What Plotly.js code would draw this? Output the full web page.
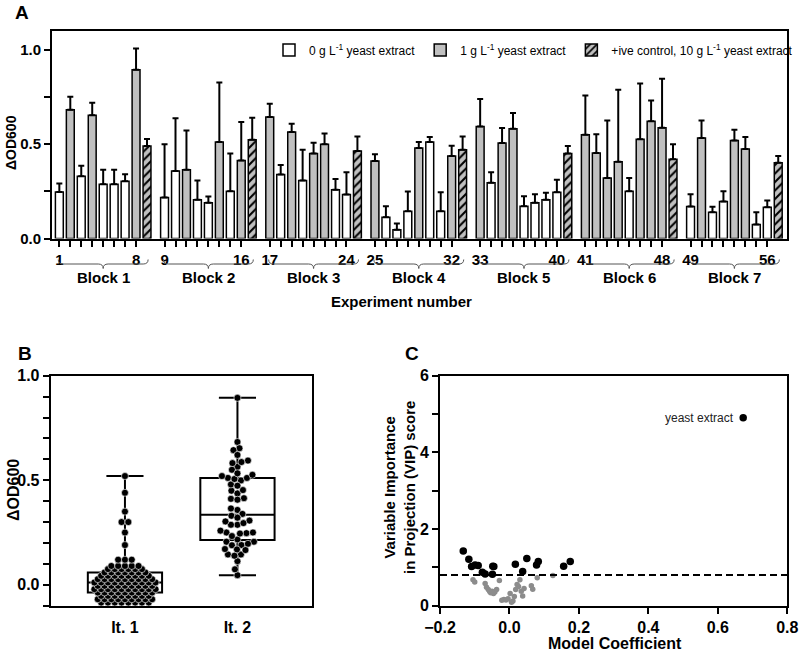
<!DOCTYPE html>
<html><head><meta charset="utf-8">
<script src="https://cdn.plot.ly/plotly-3.0.1.min.js"></script>
<style>body{margin:0;background:#fff}#chart{width:800px;height:653px}</style>
</head><body><div id="chart"></div>
<script>
const FONT = 'Liberation Sans, Arial, Helvetica, sans-serif';

// ---------- Panel A data ----------
const blockNames = ['Block 1','Block 2','Block 3','Block 4','Block 5','Block 6','Block 7'];
const expValues = [
  0.247,0.683,0.330,0.653,0.287,0.287,0.303,0.894,
  0.217,0.358,0.365,0.206,0.189,0.511,0.250,0.414,
  0.644,0.339,0.564,0.307,0.450,0.499,0.259,0.233,
  0.411,0.113,0.046,0.145,0.480,0.511,0.145,0.437,
  0.594,0.295,0.506,0.582,0.171,0.190,0.206,0.245,
  0.550,0.453,0.321,0.407,0.250,0.526,0.621,0.587,
  0.169,0.533,0.139,0.196,0.520,0.474,0.074,0.166];
const expErrors = [
  0.044,0.068,0.056,0.067,0.078,0.078,0.037,0.113,
  0.282,0.280,0.208,0.101,0.033,0.316,0.200,0.203,
  0.070,0.051,0.044,0.164,0.058,0.057,0.057,0.118,
  0.035,0.058,0.033,0.104,0.031,0.027,0.100,0.055,
  0.145,0.056,0.080,0.083,0.053,0.045,0.036,0.067,
  0.208,0.099,0.305,0.381,0.071,0.296,0.111,0.260,
  0.066,0.093,0.029,0.054,0.057,0.064,0.065,0.035];
// yeast extract level for each experiment: 0 = 0 g/L, 1 = 1 g/L
const expYeast = [
  0,1,0,1,0,0,0,1,
  0,0,1,0,0,1,0,1,
  1,0,1,0,1,1,0,0,
  1,0,0,0,1,0,0,1,
  1,0,1,1,0,0,0,0,
  1,1,1,1,0,1,1,1,
  0,1,0,0,1,1,0,0];
const ctrlValues = [0.490,0.524,0.464,0.471,0.451,0.420,0.402];
const ctrlErrors = [0.037,0.116,0.077,0.070,0.039,0.079,0.035];
const legendNames = ['0 g L<sup>-1</sup> yeast extract','1 g L<sup>-1</sup> yeast extract','+ive control, 10 g L<sup>-1</sup> yeast extract'];

// ---------- Panel B data ----------
const itCategories = ['It. 1','It. 2'];
const it1Values = [
  -0.085,-0.085,-0.085,-0.085,-0.085,-0.085,-0.085,-0.085,
  -0.069,-0.069,-0.069,-0.069,-0.069,-0.069,-0.069,-0.069,-0.069,
  -0.053,-0.053,-0.053,-0.053,-0.053,-0.053,-0.053,-0.053,
  -0.037,-0.037,-0.037,-0.037,-0.037,-0.037,-0.037,-0.037,-0.037,
  -0.021,-0.021,-0.021,-0.021,-0.021,-0.021,-0.021,-0.021,-0.021,-0.021,
  -0.005,-0.005,-0.005,-0.005,-0.005,-0.005,-0.005,-0.005,-0.005,
  0.011,0.011,0.011,0.011,0.011,0.011,0.011,0.011,0.011,0.011,
  0.027,0.027,0.027,0.027,0.027,0.027,0.027,0.027,0.027,
  0.043,0.043,0.043,0.043,0.043,0.043,0.043,0.043,
  0.059,0.059,0.059,0.059,0.059,0.059,0.059,
  0.075,0.075,0.075,0.075,0.075,0.075,
  0.09,0.09,0.09,0.09,0.09,
  0.12,0.12,0.12,
  0.19,0.25,0.30,0.30,0.35,0.44,0.52];
const it2Values = expValues.slice();

// ---------- Panel C data ----------
const vipHighX = [-0.133,-0.117,-0.109,-0.099,-0.090,-0.078,-0.070,-0.048,-0.045,-0.049,0.017,0.050,0.038,0.078,0.083,0.156,0.175,0.673];
const vipHighY = [1.43,1.21,1.02,1.06,1.05,0.87,0.83,1.03,1.02,0.82,1.08,1.23,0.89,1.06,1.15,1.03,1.15,4.90];
const vipLowX = [-0.105,-0.100,-0.070,-0.066,-0.061,-0.057,-0.054,-0.050,-0.046,-0.042,-0.037,-0.029,-0.022,-0.016,-0.010,-0.004,0.002,0.006,0.010,0.014,0.018,0.022,0.026,0.030,0.034,0.038,0.042,0.063,0.067,0.080,0.125];
const vipLowY = [0.68,0.62,0.58,0.48,0.42,0.37,0.34,0.38,0.32,0.36,0.42,0.66,0.14,0.16,0.15,0.18,0.32,0.09,0.12,0.24,0.42,0.55,0.50,0.68,0.38,0.25,0.45,0.52,0.43,0.73,0.79];
const vipThreshold = 0.8;
const namedVarLabel = 'yeast extract';

// ---------- geometry helpers ----------
const W = 800, H = 653;
const px = v => v / W;
const py = v => 1 - v / H;
const BLOCK_STEP = 9.6;
const pos = (b, i) => b * BLOCK_STEP + i;

// Panel A traces
const white = {x:[],y:[],e:[]}, grey = {x:[],y:[],e:[]};
expValues.forEach((v, k) => {
  const b = Math.floor(k / 8), i = k % 8;
  const t = expYeast[k] ? grey : white;
  t.x.push(pos(b, i)); t.y.push(v); t.e.push(expErrors[k]);
});
const ctrlX = ctrlValues.map((v, b) => pos(b, 8));
function errY(arr){return {type:'data',symmetric:false,array:arr,arrayminus:arr.map(()=>0),color:'#000',thickness:2,width:3};}
const barLine = {color:'#000', width:1.5};
const traces = [
  {type:'bar', name:legendNames[0], x:white.x, y:white.y, width:0.72, marker:{color:'#ffffff', line:barLine}, error_y:errY(white.e), xaxis:'x', yaxis:'y'},
  {type:'bar', name:legendNames[1], x:grey.x, y:grey.y, width:0.72, marker:{color:'#c0c0c0', line:barLine}, error_y:errY(grey.e), xaxis:'x', yaxis:'y'},
  {type:'bar', name:legendNames[2], x:ctrlX, y:ctrlValues, width:0.72,
    marker:{color:'#c0c0c0', line:barLine, pattern:{shape:'/', fgcolor:'#000', bgcolor:'#c0c0c0', size:6, solidity:0.35, fillmode:'replace'}},
    error_y:errY(ctrlErrors), xaxis:'x', yaxis:'y'}
];

// tick positions for experiments
const tickVals = [], tickText = [];
expValues.forEach((v, k) => {
  const b = Math.floor(k / 8), i = k % 8;
  tickVals.push(pos(b, i));
  tickText.push(i === 0 || i === 7 ? String(k + 1) : ' ');
});

// ---------- Panel B: quartiles and beeswarm ----------
function quant(sorted, p){const h=(sorted.length-1)*p, lo=Math.floor(h), hi=Math.ceil(h); return sorted[lo]+(sorted[hi]-sorted[lo])*(h-lo);}
const bDomX = [50.7, 311.7], bDomY = [375.7, 605.7];
const bRangeX = [-0.66, 1.66], bRangeY = [-0.1, 1.0];
const pxPerX = (bDomX[1]-bDomX[0])/(bRangeX[1]-bRangeX[0]);
const pxPerY = (bDomY[1]-bDomY[0])/(bRangeY[1]-bRangeY[0]);
// collision-based swarm (distinct values)
function swarm(vals, center, d){
  const order = vals.map((v,i)=>i).sort((a,b)=>vals[a]-vals[b]);
  const placed = []; const xs = new Array(vals.length);
  for(const i of order){
    const yy = vals[i]*pxPerY;
    let off = 0;
    for(let k=0;k<2000;k++){
      const cand = (k%2===0?1:-1)*Math.ceil(k/2)*0.5;
      let ok = true;
      for(const p of placed){const dx=p[0]-cand, dy=p[1]-yy; if(dx*dx+dy*dy < d*d){ok=false;break;}}
      if(ok){off=cand;break;}
    }
    placed.push([off,yy]);
    xs[i] = center + off/pxPerX;
  }
  return xs;
}
// row-based swarm (equal values share a centred row)
function rowSwarm(vals, center, d){
  const groups = {};
  vals.forEach((v,i)=>{(groups[v] = groups[v] || []).push(i);});
  const xs = new Array(vals.length);
  Object.values(groups).forEach(idx => {
    const n = idx.length;
    idx.forEach((i,j) => { xs[i] = center + ((j - (n-1)/2) * d) / pxPerX; });
  });
  return xs;
}
[it1Values, it2Values].forEach((vals, c) => {
  const s = vals.slice().sort((a,b)=>a-b);
  traces.push({type:'box', x:[c], q1:[quant(s,0.25)], median:[quant(s,0.5)], q3:[quant(s,0.75)],
    lowerfence:[s[0]], upperfence:[s[s.length-1]], width:0.66, whiskerwidth:0.5,
    line:{color:'#000', width:2}, fillcolor:'rgba(0,0,0,0)', boxpoints:false, showlegend:false,
    xaxis:'x2', yaxis:'y2', hoverinfo:'skip'});
});
traces.push({type:'scatter', mode:'markers', x:rowSwarm(it1Values, 0, 6.8), y:it1Values,
  marker:{color:'#000', size:7, line:{color:'#fff', width:0.6}}, showlegend:false, xaxis:'x2', yaxis:'y2', cliponaxis:false});
traces.push({type:'scatter', mode:'markers', x:swarm(it2Values, 1, 6.2), y:it2Values,
  marker:{color:'#000', size:7, line:{color:'#fff', width:0.6}}, showlegend:false, xaxis:'x2', yaxis:'y2', cliponaxis:false});

// ---------- Panel C ----------
traces.push({type:'scatter', mode:'markers', x:vipLowX, y:vipLowY, marker:{color:'#8c8c8c', size:5.5}, showlegend:false, xaxis:'x3', yaxis:'y3'});
traces.push({type:'scatter', mode:'markers', x:vipHighX, y:vipHighY, marker:{color:'#000', size:7.5}, showlegend:false, xaxis:'x3', yaxis:'y3'});

// ---------- shapes ----------
const shapes = [];
const yTop = py(259.5), yMid = py(264), yBot = py(268.5);
blockNames.forEach((n, b) => {
  const x0 = pos(b, 0) - 0.1, x1 = pos(b, 8) + 0.1, xm = (x0 + x1) / 2, e = 0.45;
  shapes.push({type:'path', xref:'x', yref:'paper',
    path:`M ${x0},${yTop} Q ${x0},${yMid} ${x0+e},${yMid} L ${xm-e},${yMid} Q ${xm},${yMid} ${xm},${yBot} Q ${xm},${yMid} ${xm+e},${yMid} L ${x1-e},${yMid} Q ${x1},${yMid} ${x1},${yTop}`,
    line:{color:'#555', width:1}});
});
shapes.push({type:'line', xref:'x3 domain', yref:'y3', x0:0, x1:1, y0:vipThreshold, y1:vipThreshold, line:{color:'#000', width:2, dash:'7px,4px'}});

// ---------- annotations ----------
const bold = (s) => ({family:FONT, size:s, color:'#000', weight:700});
const ann = [];
function note(text, x, y, font, extra){ann.push(Object.assign({text, x:px(x), y:py(y), xref:'paper', yref:'paper', xanchor:'center', yanchor:'middle', showarrow:false, font}, extra||{}));}
note('A', 22, 13, bold(19));
note('B', 25, 353, bold(19));
note('C', 412, 353, bold(19));
note('ΔOD600', 11, 143, bold(14), {textangle:-90});
note('Experiment number', 401, 301, bold(15));
note('ΔOD600', 13, 490, bold(16), {textangle:-90});
note('Variable Importance<br>in Projection (VIP) score', 399, 488, bold(15), {textangle:-90});
note('Model Coefficient', 615, 643, bold(16));
blockNames.forEach((n, b) => {
  ann.push({text:n, x:(pos(b,0)+pos(b,8))/2, xref:'x', y:py(277), yref:'paper', xanchor:'center', yanchor:'middle', showarrow:false, font:bold(15)});
});
const li = vipHighX.length - 1;
ann.push({text:namedVarLabel, x:vipHighX[li], y:vipHighY[li], xref:'x3', yref:'y3', xanchor:'right', yanchor:'middle', xshift:-7, showarrow:false, font:{family:FONT, size:12, color:'#222'}});

// ---------- axes ----------
const axBase = {showline:true, linecolor:'#000', linewidth:2, mirror:true, showgrid:false, zeroline:false, ticks:'outside', ticklen:6, tickwidth:2, tickcolor:'#000', tickangle:0};
const layout = {
  width:W, height:H, margin:{l:0,r:0,t:0,b:0,autoexpand:false}, paper_bgcolor:'#fff', plot_bgcolor:'#fff',
  barmode:'overlay', showlegend:true,
  font:{family:FONT, color:'#000'},
  legend:{orientation:'h', x:px(269), y:py(50), xanchor:'left', yanchor:'middle', bgcolor:'rgba(0,0,0,0)', font:{family:FONT, size:12, color:'#000'}, traceorder:'normal'},
  xaxis: Object.assign({}, axBase, {domain:[px(52), px(787)], range:[-0.67, 66.4], tickmode:'array', tickvals:tickVals, ticktext:tickText, tickfont:bold(15), anchor:'y'}),
  yaxis: Object.assign({}, axBase, {domain:[py(238.5), py(31)], range:[0, 1.1], tick0:0, dtick:0.5, tickformat:'.1f', tickfont:bold(15), minor:{dtick:0.25, tick0:0, ticks:'outside', ticklen:6, tickwidth:2, tickcolor:'#000', showgrid:false}, anchor:'x'}),
  xaxis2: Object.assign({}, axBase, {domain:[px(bDomX[0]), px(bDomX[1])], range:bRangeX, tickmode:'array', tickvals:[0,1], ticktext:itCategories, ticks:'', tickfont:bold(16), ticklabelstandoff:6, anchor:'y2'}),
  yaxis2: Object.assign({}, axBase, {domain:[py(bDomY[1]), py(bDomY[0])], range:bRangeY, tick0:0, dtick:0.5, tickformat:'.1f', tickfont:bold(16), minor:{dtick:0.1, tick0:0, ticks:'outside', ticklen:6, tickwidth:2, tickcolor:'#000', showgrid:false}, anchor:'x2'}),
  xaxis3: Object.assign({}, axBase, {domain:[px(440), px(787.3)], range:[-0.2, 0.8], tick0:0, dtick:0.2, tickformat:'.1f', tickfont:bold(16), anchor:'y3'}),
  yaxis3: Object.assign({}, axBase, {domain:[py(605.7), py(375.7)], range:[0, 6], tick0:0, dtick:2, tickfont:bold(16), minor:{dtick:1, tick0:0, ticks:'outside', ticklen:6, tickwidth:2, tickcolor:'#000', showgrid:false}, anchor:'x3'}),
  shapes:shapes, annotations:ann
};
Plotly.newPlot('chart', traces, layout, {staticPlot:true, displayModeBar:false});
</script></body></html>
